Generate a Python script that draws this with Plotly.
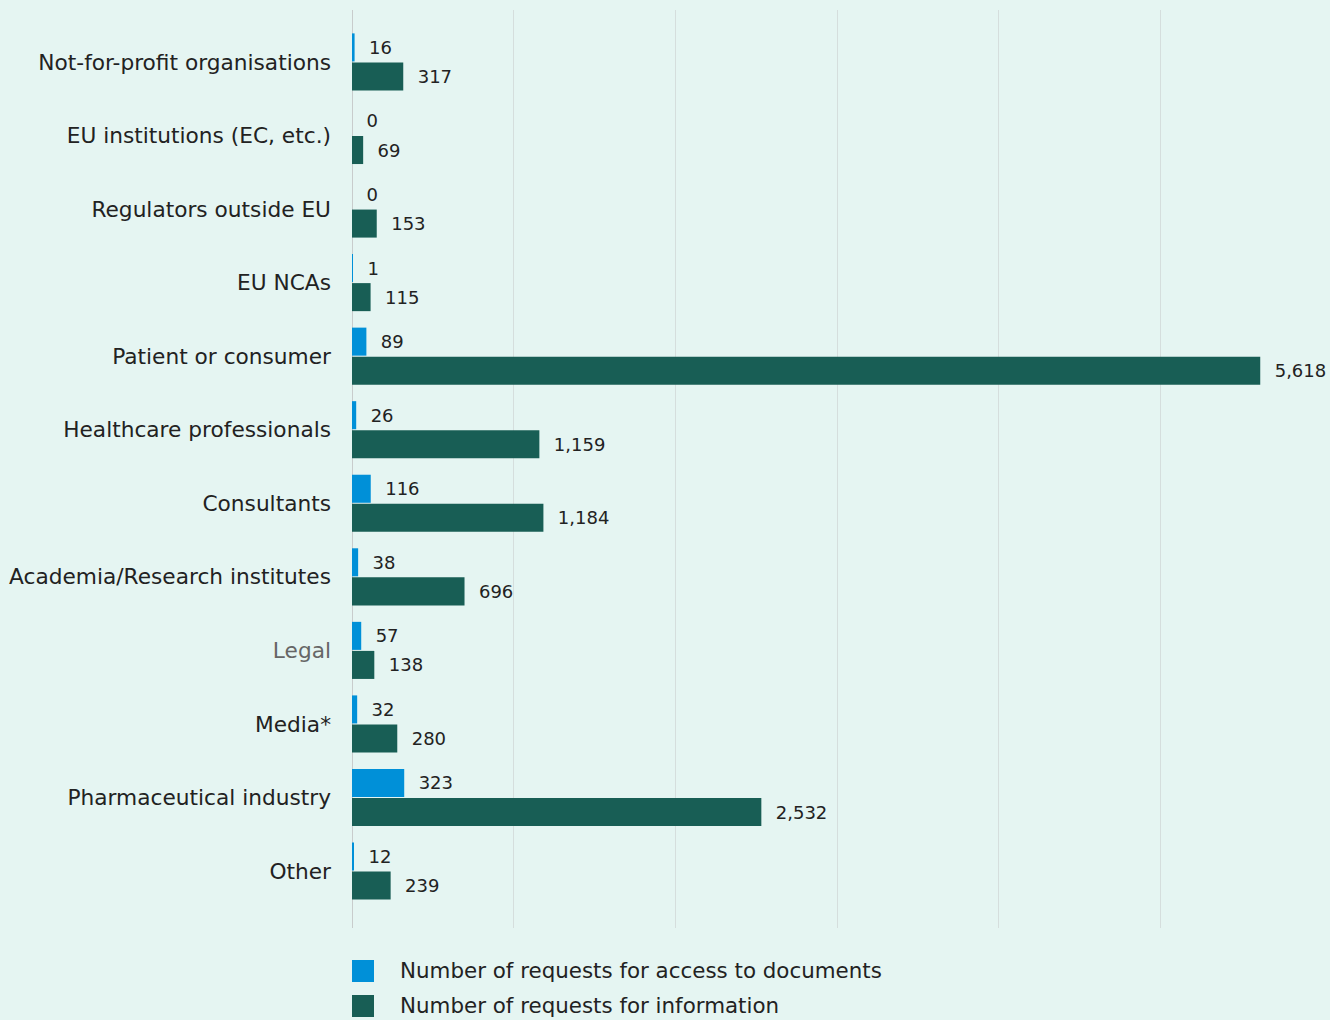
import plotly.graph_objects as go

categories = ["Not-for-profit organisations", "EU institutions (EC, etc.)", "Regulators outside EU",
              "EU NCAs", "Patient or consumer", "Healthcare professionals", "Consultants",
              "Academia/Research institutes", "Legal", "Media*", "Pharmaceutical industry", "Other"]
access_docs = [16, 0, 0, 1, 89, 26, 116, 38, 57, 32, 323, 12]
info_requests = [317, 69, 153, 115, 5618, 1159, 1184, 696, 138, 280, 2532, 239]
series_names = ["Number of requests for access to documents", "Number of requests for information"]
colors = ["#0090d8", "#185e55"]

ticktext = [("<span style='color:#666666'>%s</span>" % c) if c == "Legal" else c for c in categories]

FONT = "DejaVu Sans"
W, H = 1330, 1020
ML, MR, MT, MB = 352, 8, 10, 92
PW, PH = W - ML - MR, H - MT - MB

fig = go.Figure()
for name, vals, col in zip(series_names, [access_docs, info_requests], colors):
    fig.add_trace(go.Bar(
        y=categories, x=vals, orientation="h", name=name, marker_color=col,
        marker_line_width=0, showlegend=False,
        text=vals, texttemplate="\u00a0\u00a0%{x:,}", textposition="outside",
        textfont=dict(family=FONT, size=18, color="#222222"),
        cliponaxis=False, constraintext="none", hoverinfo="skip",
    ))

# manual legend (22px squares like the reference)
def px_x(p):
    return (p - ML) / PW

def px_y(p):
    return (H - MB - p) / PH

legend_rows = [960, 995]
for name, col, top in zip(series_names, colors, legend_rows):
    fig.add_shape(type="rect", xref="paper", yref="paper",
                  x0=px_x(352), x1=px_x(374), y0=px_y(top + 22), y1=px_y(top),
                  fillcolor=col, line_width=0)
    fig.add_annotation(xref="paper", yref="paper", x=px_x(398), y=px_y(top + 11),
                       xanchor="left", yanchor="middle", text=name, showarrow=False,
                       font=dict(family=FONT, size=21.4, color="#222222"))

fig.update_layout(
    width=W, height=H,
    margin=dict(l=ML, r=MR, t=MT, b=MB),
    paper_bgcolor="#e5f5f2", plot_bgcolor="#e5f5f2",
    barmode="group", bargap=0.21, bargroupgap=0.035,
    showlegend=False,
    font=dict(family=FONT, size=18, color="#222222"),
    xaxis=dict(range=[0, 6000], dtick=1000, showgrid=True, gridcolor="#d5dedd", gridwidth=1,
               showticklabels=False, zeroline=True, zerolinecolor="#c8cccc", zerolinewidth=1,
               showline=False, ticks=""),
    yaxis=dict(type="category", categoryorder="array", categoryarray=categories,
               tickvals=categories, ticktext=ticktext, range=[11.774, -0.706],
               ticks="", ticklabelstandoff=20, showgrid=False, zeroline=False,
               tickfont=dict(family=FONT, size=21.7, color="#222222")),
)
fig.write_html("out.html", config={"displayModeBar": False},
               post_script="document.body.style.margin='0';document.body.style.overflow='hidden';")
